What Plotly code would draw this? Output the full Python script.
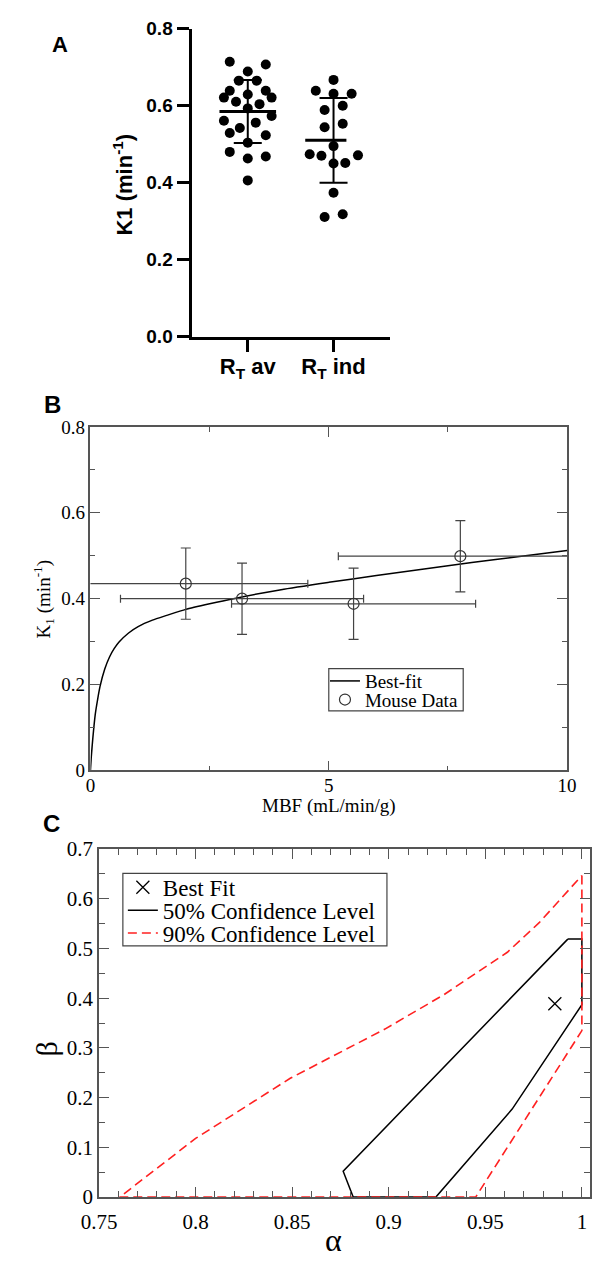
import plotly.graph_objects as go

W, H = 600, 1266

# ---------------- Panel A data ----------------
rt_av_k1 = [0.714, 0.707, 0.689, 0.665, 0.665, 0.639, 0.639, 0.629, 0.621, 0.621,
            0.610, 0.604, 0.593, 0.573, 0.561, 0.556, 0.542, 0.529, 0.523, 0.504,
            0.480, 0.463, 0.468, 0.406]
rt_av_offset = [-0.21, 0.21, 0.0, -0.104, 0.104, -0.21, 0.21, 0.0, -0.278, 0.278,
                -0.137, 0.137, 0.0, 0.278, -0.278, 0.093, -0.093, -0.21, 0.21, 0.0,
                -0.21, 0.0, 0.21, 0.0]
rt_ind_k1 = [0.667, 0.639, 0.631, 0.631, 0.589, 0.600, 0.544, 0.553, 0.495, 0.474,
             0.470, 0.471, 0.450, 0.451, 0.374, 0.311, 0.318]
rt_ind_offset = [0.0, -0.207, 0.0, 0.211, -0.104, 0.107, -0.104, 0.107, 0.0, -0.278,
                 -0.141, 0.285, 0.0, 0.137, 0.0, -0.104, 0.107]
group_labels = ["R<sub>T</sub> av", "R<sub>T</sub> ind"]
group_mean = [0.585, 0.510]
group_sd = [0.082, 0.110]

# ---------------- Panel B data ----------------
fit_mbf = [0, 0.02, 0.05, 0.1, 0.15, 0.2, 0.3, 0.4, 0.5, 0.6, 0.8, 1.0, 1.3, 1.6,
           2.0, 2.5, 3.0, 4.0, 5.0, 6.0, 7.0, 8.0, 9.0, 10.0]
fit_k1 = [0, 0.035, 0.075, 0.13, 0.165, 0.195, 0.236, 0.264, 0.284, 0.299, 0.320,
          0.335, 0.350, 0.361, 0.375, 0.388, 0.400, 0.421, 0.438, 0.454, 0.469,
          0.484, 0.498, 0.512]
mouse_mbf = [2.0, 3.18, 5.52, 7.76]
mouse_k1 = [0.435, 0.400, 0.388, 0.499]
mouse_mbf_err = [2.56, 2.55, 2.56, 2.56]
mouse_k1_err = [0.083, 0.083, 0.083, 0.083]

# ---------------- Panel C data ----------------
best_alpha = [0.986]
best_beta = [0.389]
c50_alpha = [0.9927, 1.0, 1.0, 0.9639, 0.9244, 0.8816, 0.8764, 0.9927]
c50_beta = [0.519, 0.519, 0.387, 0.177, 0.0, 0.0, 0.052, 0.519]
c90_alpha = [1.0, 1.0, 0.945, 0.7607, 0.80, 0.849, 0.898, 0.9285, 0.9614, 0.9779, 1.0]
c90_beta = [0.647, 0.335, 0.0, 0.0, 0.118, 0.239, 0.338, 0.407, 0.4925, 0.552, 0.647]


def px(x):
    return x / W


def py(y):
    return 1 - y / H


SANS = "Liberation Sans"
SERIF = "Liberation Serif"

fig = go.Figure()

# ---------- Panel A ----------
groups = [(1, rt_av_k1, rt_av_offset), (2, rt_ind_k1, rt_ind_offset)]
mean_half = [(-0.33, 0.33), (-0.33, 0.15)]
for i, (c, vals, offs) in enumerate(groups):
    fig.add_trace(go.Scatter(
        x=[c + o for o in offs], y=vals, mode="markers",
        marker=dict(color="black", size=10, line=dict(width=0)),
        xaxis="x", yaxis="y", showlegend=False, hoverinfo="skip"))
    fig.add_trace(go.Scatter(
        x=[c + mean_half[i][0], c + mean_half[i][1]], y=[group_mean[i]] * 2,
        mode="lines", line=dict(color="black", width=3),
        xaxis="x", yaxis="y", showlegend=False, hoverinfo="skip"))
    fig.add_trace(go.Scatter(
        x=[c], y=[group_mean[i]], mode="markers",
        marker=dict(size=2, color="rgba(0,0,0,0)"),
        error_y=dict(type="data", array=[group_sd[i]], color="black",
                     thickness=2, width=14),
        xaxis="x", yaxis="y", showlegend=False, hoverinfo="skip"))

# ---------- Panel B ----------
fig.add_trace(go.Scatter(
    x=fit_mbf, y=fit_k1, mode="lines", name="Best-fit",
    line=dict(color="black", width=1.5, shape="spline", smoothing=0.6),
    xaxis="x2", yaxis="y2", legend="legend", hoverinfo="skip"))
fig.add_trace(go.Scatter(
    x=mouse_mbf, y=mouse_k1, mode="markers", name="Mouse Data",
    marker=dict(symbol="circle-open", size=11, color="#333",
                line=dict(width=1.2, color="#333")),
    error_x=dict(type="data", array=mouse_mbf_err, color="#444",
                 thickness=1.2, width=4),
    error_y=dict(type="data", array=mouse_k1_err, color="#444",
                 thickness=1.2, width=5),
    xaxis="x2", yaxis="y2", legend="legend2", hoverinfo="skip"))

# ---------- Panel C ----------
fig.add_trace(go.Scatter(
    x=best_alpha, y=best_beta, mode="markers", name="Best Fit",
    marker=dict(symbol="x-thin", size=13, color="black",
                line=dict(width=1.3, color="black")),
    xaxis="x3", yaxis="y3", legend="legend3", hoverinfo="skip"))
fig.add_trace(go.Scatter(
    x=c50_alpha, y=c50_beta, mode="lines", name="50% Confidence Level",
    line=dict(color="black", width=1.5),
    xaxis="x3", yaxis="y3", legend="legend4", hoverinfo="skip"))
fig.add_trace(go.Scatter(
    x=c90_alpha, y=c90_beta, mode="lines", name="90% Confidence Level",
    line=dict(color="#ff2020", width=1.6, dash="9px,5px"),
    xaxis="x3", yaxis="y3", legend="legend5", hoverinfo="skip"))

# ---------- Axes ----------
A_font = dict(family=SANS, size=19, color="black", weight="bold")
frameB = dict(showline=True, linecolor="#555", linewidth=1.5, mirror="allticks",
              ticks="inside", tickcolor="#555", tickwidth=1.2, ticklen=10,
              showgrid=False, zeroline=False,
              tickfont=dict(family=SERIF, size=19, color="black"))

fig.update_layout(
    width=W, height=H, margin=dict(l=0, r=0, t=0, b=0),
    paper_bgcolor="white", plot_bgcolor="white",
    hovermode=False,
    xaxis=dict(domain=[px(182), px(390)], anchor="y", range=[0.344, 2.656],
               tickvals=[1, 2], ticktext=group_labels,
               showline=True, linecolor="black", linewidth=3,
               ticks="outside", ticklen=12, tickwidth=3, tickcolor="black",
               showgrid=False, zeroline=False, ticklabelstandoff=-4,
               tickfont=dict(family=SANS, size=22, color="black", weight="bold")),
    yaxis=dict(domain=[py(331), py(17)], anchor="x", range=[0, 0.8],
               dtick=0.2, tickformat=".1f",
               showline=True, linecolor="black", linewidth=3,
               ticks="outside", ticklen=12, tickwidth=3, tickcolor="black",
               showgrid=False, zeroline=False, tickfont=A_font),
    xaxis2=dict(domain=[px(76), px(576)], anchor="y2", range=[0, 10], dtick=5,
                minor=dict(dtick=2.5, ticks="inside", ticklen=5, tickcolor="#555",
                           tickwidth=1.2, showgrid=False),
                ticklabelstandoff=-3, **frameB),
    yaxis2=dict(domain=[py(773), py(423)], anchor="x2", range=[0, 0.8], dtick=0.2,
                minor=dict(dtick=0.1, ticks="inside", ticklen=5, tickcolor="#555",
                           tickwidth=1.2, showgrid=False),
                **frameB),
    xaxis3=dict(domain=[px(85), 1.0], anchor="y3", range=[0.75, 1.0042], dtick=0.05,
                tick0=0.75,
                minor=dict(dtick=0.01, ticks="inside", ticklen=6, tickcolor="#555",
                           tickwidth=1.2, showgrid=False),
                ticklabelstandoff=5,
                **{**frameB, "tickfont": dict(family=SERIF, size=21, color="black")}),
    yaxis3=dict(domain=[py(1208), py(853.3)], anchor="x3", range=[0, 0.7], dtick=0.1,
                minor=dict(dtick=0.05, ticks="inside", ticklen=6, tickcolor="#555",
                           tickwidth=1.2, showgrid=False),
                **{**frameB, "tickfont": dict(family=SERIF, size=21, color="black")}),
)

# ---------- Legends (one row each, common box drawn as a shape) ----------
def leg(x, y, size):
    return dict(x=px(x), y=py(y), xanchor="left", yanchor="middle",
                bgcolor="rgba(0,0,0,0)", borderwidth=0, tracegroupgap=0,
                itemclick=False, itemdoubleclick=False,
                font=dict(family=SERIF, size=size, color="black"))

fig.update_layout(
    showlegend=True,
    legend=leg(322, 682, 19),
    legend2=leg(322, 701, 19),
    legend3=leg(110, 892.3, 23),
    legend4=leg(110, 915.6, 23),
    legend5=leg(110, 938.9, 23),
)

fig.add_shape(type="rect", xref="paper", yref="paper",
              x0=px(326), x1=px(467), y0=py(712.3), y1=py(669.3),
              line=dict(color="#444", width=1.2), fillcolor="rgba(0,0,0,0)")
fig.add_shape(type="rect", xref="paper", yref="paper",
              x0=px(110), x1=px(387), y0=py(952), y1=py(878),
              line=dict(color="#444", width=1.2), fillcolor="rgba(0,0,0,0)")

# ---------- Titles and panel labels ----------
def ann(text, x, y, size, family, bold=False, angle=0):
    fig.add_annotation(text=text, x=px(x), y=py(y), xref="paper", yref="paper",
                       showarrow=False, textangle=angle, xanchor="center",
                       yanchor="middle",
                       font=dict(family=family, size=size, color="black",
                                 weight="bold" if bold else "normal"))

ann("A", 44, 33, 22, SANS, bold=True)
ann("B", 36, 400, 24, SANS, bold=True)
ann("C", 35, 827, 24, SANS, bold=True)
ann("K1 (min<sup>-1</sup>)", 110, 176, 22, SANS, bold=True, angle=-90)
ann("K<sub>1</sub> (min<sup>-1</sup>)", 27, 599, 19, SERIF, angle=-90)
ann("MBF (mL/min/g)", 326, 809.5, 19, SERIF)
ann("β", 30, 1057, 30, SERIF, angle=-90)
ann("α", 331, 1252, 32, SERIF)

fig.write_html(
    "out.html",
    config={"displayModeBar": False},
    post_script="document.body.style.margin='0px';document.body.style.overflow='hidden';",
)
